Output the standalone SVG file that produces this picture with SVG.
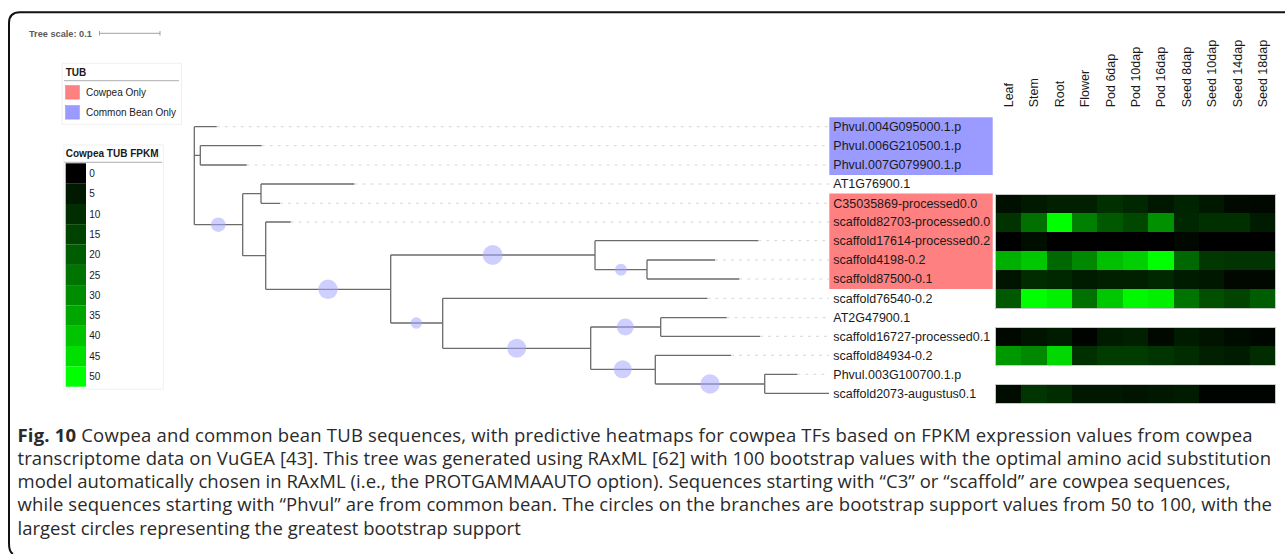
<svg xmlns="http://www.w3.org/2000/svg" width="1285" height="554" viewBox="0 0 1285 554">
  <style>
    .lbl { font-family: "Liberation Sans", Arial, sans-serif; font-size: 12.5px; fill: #1a1a1a; }
    .col { font-family: "Liberation Sans", Arial, sans-serif; font-size: 12.5px; fill: #1a1a1a; }
    .leg { font-family: "Liberation Sans", Arial, sans-serif; font-size: 10px; fill: #1a1a1a; }
    .legb { font-family: "Liberation Sans", Arial, sans-serif; font-size: 10px; font-weight: bold; fill: #1a1a1a; }
    .cap { font-family: "Open Sans", "Noto Sans", sans-serif; font-size: 18.5px; fill: #2a2a2a; }
    .branch { fill: none; stroke: #6b6b6b; stroke-width: 1.3; }
    .guide { fill: none; stroke: #d6d6d6; stroke-width: 1; stroke-dasharray: 3 5; }
    .boot { fill: #a8a8ff; fill-opacity: 0.55; }
    .hmbox { fill: none; stroke: #c8c8c8; stroke-width: 1; }
  </style>

  <rect width="1285" height="554" fill="#fff"/>

  <!-- figure frame -->
  <path d="M1285 12.3 H20 Q9 12.3 9 23 V543 Q9 552 13 554" fill="none" stroke="#111" stroke-width="2"/>

  <!-- tree scale -->
  <g id="tree-scale">
    <text x="29" y="36.5" font-family="Liberation Sans, Arial, sans-serif" font-size="9.2" font-weight="bold" fill="#5a5a5a">Tree scale: 0.1</text>
    <path d="M99.5 33.3 H160 M99.5 31 V35.6 M160 31 V35.6" stroke="#8a8a8a" stroke-width="0.8" fill="none"/>
  </g>

  <!-- TUB legend -->
  <g id="legend-tub">
    <rect x="62" y="63.3" width="119.5" height="61" fill="#fff" stroke="#f0f0f0"/>
    <text class="legb" x="65.7" y="76.3">TUB</text>
    <line x1="64" y1="80.7" x2="179" y2="80.7" stroke="#999" stroke-width="0.8"/>
    <rect x="65.7" y="85.7" width="13.6" height="13.4" fill="#ff8080" stroke="#e06a6a" stroke-width="0.5"/>
    <text class="leg" x="86" y="96.2">Cowpea Only</text>
    <rect x="65.7" y="105.7" width="13.6" height="13.4" fill="#9a9aff" stroke="#8080e0" stroke-width="0.5"/>
    <text class="leg" x="86" y="116.2">Common Bean Only</text>
  </g>

  <!-- FPKM colour scale legend -->
  <g id="legend-fpkm">
    <rect x="64" y="145" width="99.3" height="244.3" fill="#fff" stroke="#f0f0f0"/>
    <text class="legb" x="65.7" y="157.3">Cowpea TUB FPKM</text>
    <line x1="64.5" y1="162.3" x2="162" y2="162.3" stroke="#999" stroke-width="0.8"/>
    <rect x="65.7" y="163.3" width="20.3" height="20.4" fill="rgb(0,0,0)"/>
    <rect x="65.7" y="183.6" width="20.3" height="20.4" fill="rgb(0,25,0)"/>
    <rect x="65.7" y="203.9" width="20.3" height="20.4" fill="rgb(0,46,0)"/>
    <rect x="65.7" y="224.2" width="20.3" height="20.4" fill="rgb(0,66,0)"/>
    <rect x="65.7" y="244.5" width="20.3" height="20.4" fill="rgb(0,92,0)"/>
    <rect x="65.7" y="264.8" width="20.3" height="20.4" fill="rgb(0,116,0)"/>
    <rect x="65.7" y="285.1" width="20.3" height="20.4" fill="rgb(0,140,0)"/>
    <rect x="65.7" y="305.4" width="20.3" height="20.4" fill="rgb(0,166,0)"/>
    <rect x="65.7" y="325.7" width="20.3" height="20.4" fill="rgb(0,196,0)"/>
    <rect x="65.7" y="346.0" width="20.3" height="20.4" fill="rgb(0,224,0)"/>
    <rect x="65.7" y="366.3" width="20.3" height="20.4" fill="rgb(0,255,0)"/>
    <text class="leg" x="89.3" y="177">0</text>
    <text class="leg" x="89.3" y="197.3">5</text>
    <text class="leg" x="89.3" y="217.6">10</text>
    <text class="leg" x="89.3" y="237.9">15</text>
    <text class="leg" x="89.3" y="258.2">20</text>
    <text class="leg" x="89.3" y="278.5">25</text>
    <text class="leg" x="89.3" y="298.8">30</text>
    <text class="leg" x="89.3" y="319.1">35</text>
    <text class="leg" x="89.3" y="339.4">40</text>
    <text class="leg" x="89.3" y="359.7">45</text>
    <text class="leg" x="89.3" y="380">50</text>
  </g>

  <!-- coloured label strips -->
  <rect x="829.3" y="117.3" width="163.4" height="57.7" fill="#9a9aff"/>
  <rect x="829.3" y="193.5" width="163.4" height="95.5" fill="#ff8080"/>

  <!-- dotted leaf guides and tree branches -->
  <g id="connectors">
    <path class="guide" d="M216.7 126.7 H829 M261.7 145.7 H829 M246.7 165 H829 M354.3 184 H829 M280 203.3 H829 M290.7 222 H829 M758.3 240.7 H829 M715 260 H829 M739.3 279 H829 M707.3 298.3 H829 M726.7 317.7 H829 M760 336.3 H829 M731 355.3 H829 M797.3 374.3 H829"/>
    <path class="branch" d="
      M194.3 126.7 V224.7
      M194.3 126.7 H216.7
      M194.3 155.3 H200.3 M200.3 145.7 V165 M200.3 145.7 H261.7 M200.3 165 H246.7
      M194.3 224.7 H242.7 M242.7 193.7 V255.7
      M242.7 193.7 H261 M261 184 V203.3 M261 184 H354.3 M261 203.3 H280
      M242.7 255.7 H265.7 M265.7 222 V289.3 M265.7 222 H290.7
      M265.7 289.3 H390.7 M390.7 255 V323
      M390.7 255 H595 M595 240.7 V269.7 M595 240.7 H758.3
      M595 269.7 H647 M647 260 V279 M647 260 H715 M647 279 H739.3
      M390.7 323 H442.7 M442.7 298.3 V348.3 M442.7 298.3 H707.3
      M442.7 348.3 H590.7 M590.7 327 V369.3
      M590.7 327 H660.7 M660.7 317.7 V336.3 M660.7 317.7 H726.7 M660.7 336.3 H760
      M590.7 369.3 H655.3 M655.3 355.3 V384 M655.3 355.3 H731
      M655.3 384 H764.7 M764.7 374.3 V393.3 M764.7 374.3 H797.3 M764.7 393.3 H829"/>
    <!-- bootstrap support circles -->
    <circle class="boot" cx="218.3" cy="224.7" r="7.3"/>
    <circle class="boot" cx="328" cy="289.3" r="9.7"/>
    <circle class="boot" cx="492.7" cy="255" r="10"/>
    <circle class="boot" cx="621" cy="269.7" r="6"/>
    <circle class="boot" cx="416.3" cy="323" r="5.7"/>
    <circle class="boot" cx="516.7" cy="348.3" r="9.5"/>
    <circle class="boot" cx="625.3" cy="327" r="8.5"/>
    <circle class="boot" cx="622.7" cy="369.3" r="9"/>
    <circle class="boot" cx="710" cy="384" r="9.7"/>
  </g>

  <!-- leaf labels -->
  <g id="leaf-labels">
    <g id="n-phvul004"><text class="lbl" x="833.3" y="131">Phvul.004G095000.1.p</text></g>
    <g id="n-phvul006"><text class="lbl" x="833.3" y="150">Phvul.006G210500.1.p</text></g>
    <g id="n-phvul007"><text class="lbl" x="833.3" y="169.3">Phvul.007G079900.1.p</text></g>
    <g id="n-at1g76900"><text class="lbl" x="833.3" y="188.3">AT1G76900.1</text></g>
    <g id="n-c35035869"><text class="lbl" x="833.3" y="207.6">C35035869-processed0.0</text></g>
    <g id="n-scaffold82703"><text class="lbl" x="833.3" y="226.3">scaffold82703-processed0.0</text></g>
    <g id="n-scaffold17614"><text class="lbl" x="833.3" y="245">scaffold17614-processed0.2</text></g>
    <g id="n-scaffold4198"><text class="lbl" x="833.3" y="264.3">scaffold4198-0.2</text></g>
    <g id="n-scaffold87500"><text class="lbl" x="833.3" y="283.3">scaffold87500-0.1</text></g>
    <g id="n-scaffold76540"><text class="lbl" x="833.3" y="302.6">scaffold76540-0.2</text></g>
    <g id="n-at2g47900"><text class="lbl" x="833.3" y="322">AT2G47900.1</text></g>
    <g id="n-scaffold16727"><text class="lbl" x="833.3" y="340.6">scaffold16727-processed0.1</text></g>
    <g id="n-scaffold84934"><text class="lbl" x="833.3" y="359.6">scaffold84934-0.2</text></g>
    <g id="n-phvul003"><text class="lbl" x="833.3" y="378.6">Phvul.003G100700.1.p</text></g>
    <g id="n-scaffold2073"><text class="lbl" x="833.3" y="397.6">scaffold2073-augustus0.1</text></g>
  </g>

  <!-- heatmap column headers -->
  <g id="heatmap-columns">
    <text class="col" transform="translate(1013,107.3) rotate(-90)">Leaf</text>
    <text class="col" transform="translate(1038.4,107.3) rotate(-90)">Stem</text>
    <text class="col" transform="translate(1063.8,107.3) rotate(-90)">Root</text>
    <text class="col" transform="translate(1089.2,107.3) rotate(-90)">Flower</text>
    <text class="col" transform="translate(1114.6,107.3) rotate(-90)">Pod 6dap</text>
    <text class="col" transform="translate(1140,107.3) rotate(-90)">Pod 10dap</text>
    <text class="col" transform="translate(1165.4,107.3) rotate(-90)">Pod 16dap</text>
    <text class="col" transform="translate(1190.8,107.3) rotate(-90)">Seed 8dap</text>
    <text class="col" transform="translate(1216.2,107.3) rotate(-90)">Seed 10dap</text>
    <text class="col" transform="translate(1241.6,107.3) rotate(-90)">Seed 14dap</text>
    <text class="col" transform="translate(1267,107.3) rotate(-90)">Seed 18dap</text>
  </g>

  <!-- heatmap cells: columns step 25.4 from x=995.7, rows 19.04 high -->
  <g id="heatmap" shape-rendering="crispEdges">
    <!-- C35035869-processed0.0 -->
    <g transform="translate(995.7,194)">
      <rect x="0" width="25.5" height="19.1" fill="rgb(0,16,0)"/><rect x="25.4" width="25.5" height="19.1" fill="rgb(0,26,0)"/><rect x="50.8" width="25.5" height="19.1" fill="rgb(0,32,0)"/><rect x="76.2" width="25.5" height="19.1" fill="rgb(0,32,0)"/><rect x="101.6" width="25.5" height="19.1" fill="rgb(0,48,0)"/><rect x="127" width="25.5" height="19.1" fill="rgb(0,40,0)"/><rect x="152.4" width="25.5" height="19.1" fill="rgb(0,24,0)"/><rect x="177.8" width="25.5" height="19.1" fill="rgb(0,36,0)"/><rect x="203.2" width="25.5" height="19.1" fill="rgb(0,24,0)"/><rect x="228.6" width="25.5" height="19.1" fill="rgb(0,10,0)"/><rect x="254" width="25.4" height="19.1" fill="rgb(0,8,0)"/>
    </g>
    <!-- scaffold82703-processed0.0 -->
    <g transform="translate(995.7,213.04)">
      <rect x="0" width="25.5" height="19.1" fill="rgb(0,51,0)"/><rect x="25.4" width="25.5" height="19.1" fill="rgb(0,112,0)"/><rect x="50.8" width="25.5" height="19.1" fill="rgb(0,255,0)"/><rect x="76.2" width="25.5" height="19.1" fill="rgb(0,128,0)"/><rect x="101.6" width="25.5" height="19.1" fill="rgb(0,88,0)"/><rect x="127" width="25.5" height="19.1" fill="rgb(0,72,0)"/><rect x="152.4" width="25.5" height="19.1" fill="rgb(0,144,0)"/><rect x="177.8" width="25.5" height="19.1" fill="rgb(0,40,0)"/><rect x="203.2" width="25.5" height="19.1" fill="rgb(0,48,0)"/><rect x="228.6" width="25.5" height="19.1" fill="rgb(0,48,0)"/><rect x="254" width="25.4" height="19.1" fill="rgb(0,28,0)"/>
    </g>
    <!-- scaffold17614-processed0.2 -->
    <g transform="translate(995.7,232.08)">
      <rect x="0" width="25.5" height="19.1" fill="rgb(0,0,0)"/><rect x="25.4" width="25.5" height="19.1" fill="rgb(0,14,0)"/><rect x="50.8" width="25.5" height="19.1" fill="rgb(0,0,0)"/><rect x="76.2" width="25.5" height="19.1" fill="rgb(0,0,0)"/><rect x="101.6" width="25.5" height="19.1" fill="rgb(0,0,0)"/><rect x="127" width="25.5" height="19.1" fill="rgb(0,0,0)"/><rect x="152.4" width="25.5" height="19.1" fill="rgb(0,0,0)"/><rect x="177.8" width="25.5" height="19.1" fill="rgb(0,8,0)"/><rect x="203.2" width="25.5" height="19.1" fill="rgb(0,0,0)"/><rect x="228.6" width="25.5" height="19.1" fill="rgb(0,0,0)"/><rect x="254" width="25.4" height="19.1" fill="rgb(0,0,0)"/>
    </g>
    <!-- scaffold4198-0.2 -->
    <g transform="translate(995.7,251.12)">
      <rect x="0" width="25.5" height="19.1" fill="rgb(0,176,0)"/><rect x="25.4" width="25.5" height="19.1" fill="rgb(0,200,0)"/><rect x="50.8" width="25.5" height="19.1" fill="rgb(0,104,0)"/><rect x="76.2" width="25.5" height="19.1" fill="rgb(0,136,0)"/><rect x="101.6" width="25.5" height="19.1" fill="rgb(0,192,0)"/><rect x="127" width="25.5" height="19.1" fill="rgb(0,208,0)"/><rect x="152.4" width="25.5" height="19.1" fill="rgb(0,255,0)"/><rect x="177.8" width="25.5" height="19.1" fill="rgb(0,104,0)"/><rect x="203.2" width="25.5" height="19.1" fill="rgb(0,56,0)"/><rect x="228.6" width="25.5" height="19.1" fill="rgb(0,52,0)"/><rect x="254" width="25.4" height="19.1" fill="rgb(0,52,0)"/>
    </g>
    <!-- scaffold87500-0.1 -->
    <g transform="translate(995.7,270.16)">
      <rect x="0" width="25.5" height="19.1" fill="rgb(0,20,0)"/><rect x="25.4" width="25.5" height="19.1" fill="rgb(0,44,0)"/><rect x="50.8" width="25.5" height="19.1" fill="rgb(0,40,0)"/><rect x="76.2" width="25.5" height="19.1" fill="rgb(0,28,0)"/><rect x="101.6" width="25.5" height="19.1" fill="rgb(0,32,0)"/><rect x="127" width="25.5" height="19.1" fill="rgb(0,32,0)"/><rect x="152.4" width="25.5" height="19.1" fill="rgb(0,40,0)"/><rect x="177.8" width="25.5" height="19.1" fill="rgb(0,28,0)"/><rect x="203.2" width="25.5" height="19.1" fill="rgb(0,24,0)"/><rect x="228.6" width="25.5" height="19.1" fill="rgb(0,8,0)"/><rect x="254" width="25.4" height="19.1" fill="rgb(0,8,0)"/>
    </g>
    <!-- scaffold76540-0.2 -->
    <g transform="translate(995.7,289.2)">
      <rect x="0" width="25.5" height="19" fill="rgb(0,88,0)"/><rect x="25.4" width="25.5" height="19" fill="rgb(0,255,0)"/><rect x="50.8" width="25.5" height="19" fill="rgb(0,240,0)"/><rect x="76.2" width="25.5" height="19" fill="rgb(0,112,0)"/><rect x="101.6" width="25.5" height="19" fill="rgb(0,200,0)"/><rect x="127" width="25.5" height="19" fill="rgb(0,248,0)"/><rect x="152.4" width="25.5" height="19" fill="rgb(0,240,0)"/><rect x="177.8" width="25.5" height="19" fill="rgb(0,116,0)"/><rect x="203.2" width="25.5" height="19" fill="rgb(0,80,0)"/><rect x="228.6" width="25.5" height="19" fill="rgb(0,68,0)"/><rect x="254" width="25.4" height="19" fill="rgb(0,92,0)"/>
    </g>
    <!-- scaffold16727-processed0.1 -->
    <g transform="translate(995.7,327.3)">
      <rect x="0" width="25.5" height="19.1" fill="rgb(0,8,0)"/><rect x="25.4" width="25.5" height="19.1" fill="rgb(0,20,0)"/><rect x="50.8" width="25.5" height="19.1" fill="rgb(0,28,0)"/><rect x="76.2" width="25.5" height="19.1" fill="rgb(0,4,0)"/><rect x="101.6" width="25.5" height="19.1" fill="rgb(0,28,0)"/><rect x="127" width="25.5" height="19.1" fill="rgb(0,32,0)"/><rect x="152.4" width="25.5" height="19.1" fill="rgb(0,8,0)"/><rect x="177.8" width="25.5" height="19.1" fill="rgb(0,28,0)"/><rect x="203.2" width="25.5" height="19.1" fill="rgb(0,20,0)"/><rect x="228.6" width="25.5" height="19.1" fill="rgb(0,12,0)"/><rect x="254" width="25.4" height="19.1" fill="rgb(0,6,0)"/>
    </g>
    <!-- scaffold84934-0.2 -->
    <g transform="translate(995.7,346.34)">
      <rect x="0" width="25.5" height="19" fill="rgb(0,152,0)"/><rect x="25.4" width="25.5" height="19" fill="rgb(0,136,0)"/><rect x="50.8" width="25.5" height="19" fill="rgb(0,216,0)"/><rect x="76.2" width="25.5" height="19" fill="rgb(0,48,0)"/><rect x="101.6" width="25.5" height="19" fill="rgb(0,60,0)"/><rect x="127" width="25.5" height="19" fill="rgb(0,60,0)"/><rect x="152.4" width="25.5" height="19" fill="rgb(0,52,0)"/><rect x="177.8" width="25.5" height="19" fill="rgb(0,44,0)"/><rect x="203.2" width="25.5" height="19" fill="rgb(0,32,0)"/><rect x="228.6" width="25.5" height="19" fill="rgb(0,28,0)"/><rect x="254" width="25.4" height="19" fill="rgb(0,44,0)"/>
    </g>
    <!-- scaffold2073-augustus0.1 -->
    <g transform="translate(995.7,384.4)">
      <rect x="0" width="25.5" height="18.6" fill="rgb(0,12,0)"/><rect x="25.4" width="25.5" height="18.6" fill="rgb(0,52,0)"/><rect x="50.8" width="25.5" height="18.6" fill="rgb(0,44,0)"/><rect x="76.2" width="25.5" height="18.6" fill="rgb(0,24,0)"/><rect x="101.6" width="25.5" height="18.6" fill="rgb(0,24,0)"/><rect x="127" width="25.5" height="18.6" fill="rgb(0,20,0)"/><rect x="152.4" width="25.5" height="18.6" fill="rgb(0,24,0)"/><rect x="177.8" width="25.5" height="18.6" fill="rgb(0,28,0)"/><rect x="203.2" width="25.5" height="18.6" fill="rgb(0,4,0)"/><rect x="228.6" width="25.5" height="18.6" fill="rgb(0,4,0)"/><rect x="254" width="25.4" height="18.6" fill="rgb(0,4,0)"/>
    </g>
    <!-- block outlines -->
    <rect class="hmbox" x="995.7" y="194" width="279.4" height="114.2"/>
    <rect class="hmbox" x="995.7" y="327.3" width="279.4" height="38"/>
    <rect class="hmbox" x="995.7" y="384.4" width="279.4" height="18.6"/>
  </g>

  <!-- caption -->
  <g id="caption">
    <text class="cap" x="17.5" y="441.5" textLength="1235" lengthAdjust="spacing"><tspan font-weight="bold">Fig. 10</tspan> Cowpea and common bean TUB sequences, with predictive heatmaps for cowpea TFs based on FPKM expression values from cowpea</text>
    <text class="cap" x="17.5" y="464.8" textLength="1253.5" lengthAdjust="spacing">transcriptome data on VuGEA [43]. This tree was generated using RAxML [62] with 100 bootstrap values with the optimal amino acid substitution</text>
    <text class="cap" x="17.5" y="488.1" textLength="1213" lengthAdjust="spacing">model automatically chosen in RAxML (i.e., the PROTGAMMAAUTO option). Sequences starting with “C3” or “scaffold” are cowpea sequences,</text>
    <text class="cap" x="17.5" y="511.4" textLength="1254.5" lengthAdjust="spacing">while sequences starting with “Phvul” are from common bean. The circles on the branches are bootstrap support values from 50 to 100, with the</text>
    <text class="cap" x="17.5" y="534.7">largest circles representing the greatest bootstrap support</text>
  </g>
</svg>
